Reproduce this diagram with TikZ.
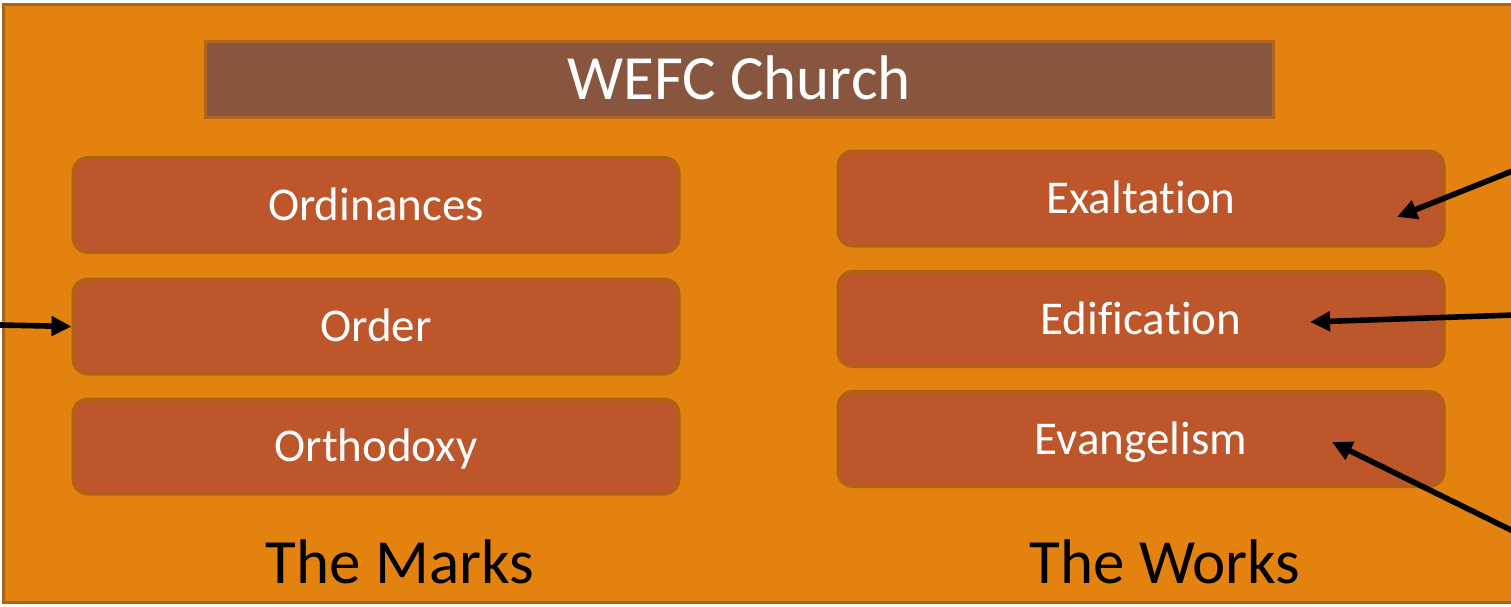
\documentclass[tikz,border=0pt]{standalone}
\usepackage{fontspec}
\setmainfont[Ligatures={NoCommon,NoRare,NoContextual}]{Carlito}
\usetikzlibrary{arrows.meta,calc}
\definecolor{panel}{HTML}{E4820F}
\definecolor{panelline}{HTML}{A8661B}
\definecolor{boxfill}{HTML}{BD572B}
\definecolor{boxline}{HTML}{AE6212}
\definecolor{titlefill}{HTML}{88563F}
\definecolor{titleline}{HTML}{B2661A}
\tikzset{
  itembox/.style={draw=boxline, line width=1.5pt, fill=boxfill, rounded corners=7.5pt,
    minimum width=303pt, minimum height=47.5pt, text=white,
    text height=15.1pt, text depth=0pt,
    font=\fontsize{23.5}{28}\selectfont, inner sep=0pt},
  titlebox/.style={draw=titleline, line width=1.5pt, fill=titlefill,
    minimum width=534pt, minimum height=38pt, text=white,
    text height=20.3pt, text depth=0pt,
    font=\fontsize{31.5}{36}\selectfont, inner sep=0pt},
  caption/.style={text=black, font=\fontsize{31.5}{36}\selectfont, anchor=base, inner sep=0pt},
  pointer/.style={line width=2.8pt, -{Triangle[length=10pt,width=9.5pt]}}
}
\begin{document}
\begin{tikzpicture}[x=0.5pt,y=-0.5pt]
  \useasboundingbox (0,0) rectangle (1511,606);
  \fill[white] (0,0) rectangle (1511,606);
  \begin{scope}
    \clip (0,0) rectangle (1511,606);
    \draw[panelline, line width=1.5pt, fill=panel] (3,4) rectangle (1540,602);
  \end{scope}

  % heading
  \node[titlebox] (title) at (739,79) {WEFC Church};

  % the marks
  \node[itembox] (ordinances) at (376,205) {Ordinances};
  \node[itembox] (order)      at (376,326.5) {Order};
  \node[itembox] (orthodoxy)  at (376,446.5) {Orthodoxy};
  \node[caption] (marks) at (400,583) {The Marks};

  % the works (letter pairs kept apart so no ligatures form)
  \node[itembox] (exaltation)  at (1141,198.5) {Exalta\kern0pt t\kern0pt ion};
  \node[itembox] (edification) at (1141,319) {Edi\kern0pt f\kern0pt ica\kern0pt t\kern0pt ion};
  \node[itembox] (evangelism)  at (1141,439) {Evangelism};
  \node[caption] (works) at (1165,583) {The Works};

  % pointer ends
  \coordinate (leftin)  at (0,325);
  \coordinate (exin)    at (1515,170);
  \coordinate (edin)    at (1515,315);
  \coordinate (evin)    at (1515,532);
  \coordinate (extip)   at (1397,217);
  \coordinate (edtip)   at (1310,322);
  \coordinate (evtip)   at (1332,442);

  \draw[pointer] (leftin) -- (order.west);
  \draw[pointer] (exin) -- (extip);
  \draw[pointer] (edin) -- (edtip);
  \draw[pointer] (evin) -- (evtip);
\end{tikzpicture}
\end{document}
